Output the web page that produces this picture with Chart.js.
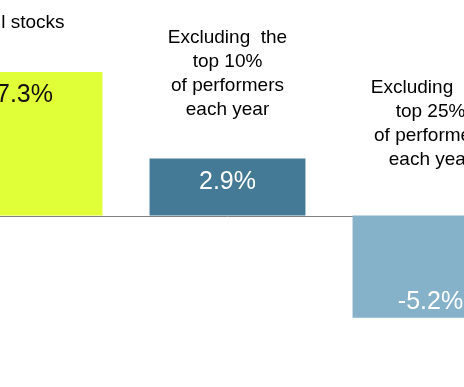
<!DOCTYPE html>
<html>
<head>
<meta charset="utf-8">
<script src="https://cdn.jsdelivr.net/npm/chart.js@4/dist/chart.umd.min.js"></script>
<style>
  html, body { margin: 0; padding: 0; background: #fff; overflow: hidden; }
  body { width: 464px; height: 387px; position: relative; }
  #chart { position: absolute; left: -77px; top: 0; }
</style>
</head>
<body>
<canvas id="chart" width="609" height="387"></canvas>
<script>
const categories = [
  ['All stocks'],
  ['Excluding  the', 'top 10%', 'of performers', 'each year'],
  ['Excluding  the', 'top 25%', 'of performers', 'each year'],
];
const values = [7.3, 2.9, -5.2];
const barColors = ['#e1ff38', '#457a96', '#85b2c9'];
const valueColors = ['#111111', '#ffffff', '#ffffff'];

const FONT = '"Liberation Sans", Arial, sans-serif';

// zero line across the whole plot
const zeroLine = {
  id: 'zeroLine',
  beforeDatasetsDraw(chart) {
    const { ctx, chartArea, scales } = chart;
    const y = Math.round(scales.y.getPixelForValue(0)) + 0.5;
    ctx.save();
    ctx.strokeStyle = '#808080';
    ctx.lineWidth = 1;
    ctx.beginPath();
    ctx.moveTo(chartArea.left, y);
    ctx.lineTo(chartArea.right, y);
    ctx.stroke();
    ctx.restore();
  },
};

// category captions above the bars and value labels inside them
const barText = {
  id: 'barText',
  afterDatasetsDraw(chart) {
    const { ctx } = chart;
    const bars = chart.getDatasetMeta(0).data;
    ctx.save();
    ctx.textAlign = 'center';
    ctx.textBaseline = 'alphabetic';
    bars.forEach((bar, i) => {
      const top = Math.min(bar.y, bar.base);
      const bottom = Math.max(bar.y, bar.base);
      const neg = values[i] < 0;

      const lines = categories[i];
      const lineH = 23.7;
      const lastBase = top - (neg ? 51 : 44);
      ctx.fillStyle = '#000';
      ctx.font = '19px ' + FONT;
      lines.forEach((t, j) => {
        ctx.fillText(t, bar.x, lastBase - (lines.length - 1 - j) * lineH);
      });

      ctx.fillStyle = valueColors[i];
      ctx.font = '25px ' + FONT;
      const vy = neg ? bottom - 9 : top + 30;
      ctx.fillText(values[i].toFixed(1) + '%', bar.x, vy);
    });
    ctx.restore();
  },
};

new Chart(document.getElementById('chart'), {
  type: 'bar',
  data: {
    labels: categories.map(c => c.join(' ')),
    datasets: [{
      data: values,
      backgroundColor: barColors,
      borderWidth: 0,
      categoryPercentage: 1,
      barPercentage: 0.768,
    }],
  },
  options: {
    responsive: false,
    animation: false,
    devicePixelRatio: 1,
    layout: { padding: 0 },
    plugins: {
      legend: { display: false },
      tooltip: { enabled: false },
    },
    scales: {
      x: { display: false, offset: true },
      y: { display: false, min: -8.73, max: 10.97 },
    },
  },
  plugins: [zeroLine, barText],
});
</script>
</body>
</html>
